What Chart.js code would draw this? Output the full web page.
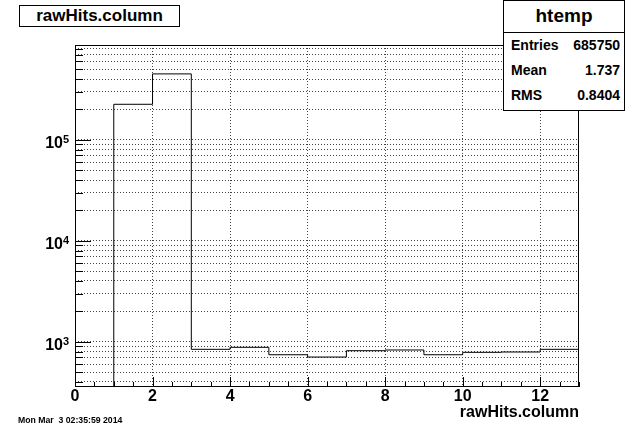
<!DOCTYPE html>
<html>
<head>
<meta charset="utf-8">
<script src="https://cdn.jsdelivr.net/npm/chart.js@4/dist/chart.umd.min.js"></script>
<style>
  body { margin: 0; background: #fff; font-family: "Liberation Sans", Arial, Helvetica, sans-serif; }
  #wrap { position: relative; width: 625px; height: 430px; overflow: hidden; }
  #wrap canvas { position: absolute; left: 0; top: 0; }
  .box { position: absolute; background: #fff; border: 1px solid #000; box-sizing: border-box; font-weight: bold; color: #000; }
  #title { left: 19px; top: 5px; width: 161px; height: 22px; font-size: 17px; line-height: 20px; text-align: center; }
  #stats { left: 503px; top: 0; width: 122px; height: 111px; }
  #stats .name { height: 32px; border-bottom: 1px solid #000; box-sizing: border-box; font-size: 19px; line-height: 30px; text-align: center; }
  #stats .row { display: flex; justify-content: space-between; padding: 0 4px 0 7px; font-size: 14px; height: 25px; line-height: 25px; }
  #date { position: absolute; left: 18px; top: 415px; font-size: 8.7px; line-height: 11px; font-weight: bold; white-space: pre; }
</style>
</head>
<body>
<div id="wrap">
  <canvas id="c" width="625" height="430"></canvas>
  <div id="title" class="box">rawHits.column</div>
  <div id="stats" class="box">
    <div class="name">htemp</div>
    <div class="row"><span>Entries</span><span>685750</span></div>
    <div class="row"><span>Mean</span><span>1.737</span></div>
    <div class="row"><span>RMS</span><span>0.8404</span></div>
  </div>
  <div id="date">Mon Mar  3 02:35:59 2014</div>
</div>
<script>
// histograma rawHits.column (bins de largura 1, borda inferior de cada bin)
const binLow = [1, 2, 3, 4, 5, 6, 7, 8, 9, 10, 11, 12]
const binHigh = 13
const counts = [225000, 450000, 841, 880, 743, 705, 815, 828, 743, 785, 791, 841]

const xRange = [0, 13]
const xTicks = [0, 2, 4, 6, 8, 10, 12]
const yRange = [356, 870000]
const yDecades = [1e2, 1e3, 1e4, 1e5]
const yMantissas = [1, 2, 3, 4, 5, 6, 7, 8, 9]

const FONT = '"Liberation Sans", Arial, Helvetica, sans-serif'

const yTicks = []
yDecades.forEach((d) => yMantissas.forEach((m) => {
  const v = d * m
  if (v >= yRange[0] && v <= yRange[1]) yTicks.push(v)
}))
const inY = (v) => v >= yRange[0] && v <= yRange[1]

// contorno em degraus: sobe do fundo do eixo na borda do primeiro bin
const points = [{ x: binLow[0], y: yRange[0] }]
  .concat(binLow.map((x, i) => ({ x, y: counts[i] })))
  .concat([{ x: binHigh, y: counts[counts.length - 1] }])

// moldura, ticks para dentro e rótulos 10^n
const rootFrame = {
  id: "rootFrame",
  afterDatasetsDraw(chart) {
    const { ctx, chartArea: a, scales: { x, y } } = chart
    ctx.save()
    ctx.strokeStyle = "#000"
    ctx.lineWidth = 1
    ctx.beginPath()
    yTicks.forEach((v) => {
      const py = Math.round(y.getPixelForValue(v)) + 0.5
      const len = yDecades.includes(v) ? 16 : 8
      ctx.moveTo(a.left, py)
      ctx.lineTo(a.left + len, py)
    })
    for (let v = xRange[0]; v <= xRange[1]; v += 0.5) {
      const px = Math.round(x.getPixelForValue(v)) + 0.5
      const len = xTicks.includes(v) ? 10 : 5
      ctx.moveTo(px, a.bottom)
      ctx.lineTo(px, a.bottom - len)
    }
    ctx.stroke()
    ctx.strokeRect(a.left + 0.5, a.top + 0.5, a.width - 1, a.height - 1)

    ctx.fillStyle = "#000"
    ctx.textBaseline = "alphabetic"
    yDecades.filter(inY).forEach((d) => {
      const py = y.getPixelForValue(d)
      ctx.font = `bold 16px ${FONT}`
      ctx.textAlign = "right"
      ctx.fillText("10", a.left - 12, py + 8)
      ctx.font = `bold 11px ${FONT}`
      ctx.textAlign = "left"
      ctx.fillText(String(Math.round(Math.log10(d))), a.left - 12, py + 3)
    })
    ctx.restore()
  }
}

new Chart(document.getElementById("c"), {
  type: "line",
  data: {
    datasets: [{
      data: points,
      stepped: true,
      borderColor: "#000",
      borderWidth: 1,
      pointRadius: 0,
      fill: false
    }]
  },
  plugins: [rootFrame],
  options: {
    responsive: false,
    animation: false,
    layout: { padding: { top: 45, right: 46, left: 0, bottom: 0 } },
    plugins: { legend: { display: false }, tooltip: { enabled: false } },
    scales: {
      x: {
        type: "linear",
        min: xRange[0],
        max: xRange[1],
        afterBuildTicks: (s) => { s.ticks = xTicks.map((value) => ({ value })) },
        afterFit: (s) => { s.height = 43 },
        ticks: { color: "#000", padding: 0, font: { family: FONT, size: 16, weight: "bold" } },
        grid: { color: "#444", drawTicks: false },
        border: { display: false, dash: [1, 2] },
        title: {
          display: true,
          text: "rawHits.column",
          align: "end",
          color: "#000",
          padding: { top: 0, bottom: 8 },
          font: { family: FONT, size: 16, weight: "bold" }
        }
      },
      y: {
        type: "logarithmic",
        min: yRange[0],
        max: yRange[1],
        afterBuildTicks: (s) => { s.ticks = yTicks.map((value) => ({ value })) },
        afterFit: (s) => { s.width = 75 },
        ticks: { display: false },
        grid: { color: "#444", drawTicks: false },
        border: { display: false, dash: [1, 2] }
      }
    }
  }
})
</script>
</body>
</html>
